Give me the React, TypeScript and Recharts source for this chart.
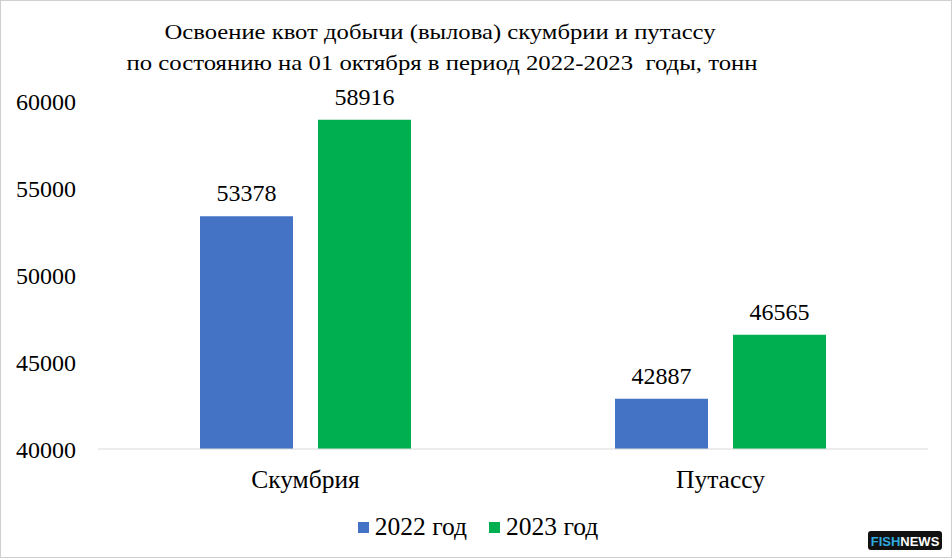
import React from "react"
import { BarChart, Bar, XAxis, YAxis, Legend, LabelList } from "recharts"

const categories = ["Скумбрия", "Путассу"]
const values2022 = [53378, 42887]
const values2023 = [58916, 46565]
const yTicks = [40000, 45000, 50000, 55000, 60000]
const seriesNames = ["2022 год", "2023 год"]

const COLORS = ["#4472C4", "#00B050"]
const FONT = "Liberation Serif, Times New Roman, serif"

const data = categories.map((name, i) => ({
  name,
  y2022: values2022[i],
  y2023: values2023[i],
}))

const renderLegend = () => (
  <div
    style={{
      display: "flex",
      justifyContent: "center",
      alignItems: "center",
      fontFamily: FONT,
      fontSize: 25.5,
      color: "#000",
      height: 30,
      paddingLeft: 28,
    }}
  >
    {seriesNames.map((s, i) => (
      <span
        key={s}
        style={{ display: "flex", alignItems: "center", marginRight: i === 0 ? 22 : 0 }}
      >
        <span
          style={{
            width: 11,
            height: 11,
            background: COLORS[i],
            display: "inline-block",
            marginRight: 6,
          }}
        />
        {s}
      </span>
    ))}
  </div>
)

const App = () => {
  return (
    <div
      style={{
        position: "absolute",
        left: 0,
        top: 0,
        width: 952,
        height: 560,
        background: "#fff",
        fontFamily: FONT,
      }}
    >
      <div
        style={{
          position: "absolute",
          left: 0,
          top: 0,
          width: 950,
          height: 556,
          border: "1px solid #cfcfcf",
        }}
      />
      <svg
        width={952}
        height={90}
        style={{ position: "absolute", left: 0, top: 0, fontFamily: FONT }}
      >
        <text
          x={440}
          y={39}
          textAnchor="middle"
          fontSize={22}
          textLength={551}
          lengthAdjust="spacingAndGlyphs"
        >
          Освоение квот добычи (вылова) скумбрии и путассу
        </text>
        <text
          x={442}
          y={70}
          textAnchor="middle"
          fontSize={22}
          textLength={631}
          lengthAdjust="spacingAndGlyphs"
          style={{ whiteSpace: "pre" }}
        >
          по состоянию на 01 октября в период 2022-2023  годы, тонн
        </text>
      </svg>
      <BarChart
        width={952}
        height={560}
        data={data}
        margin={{ top: 101, right: 24, bottom: 41, left: 0 }}
        barSize={93}
        barGap={25}
        style={{ position: "absolute", left: 0, top: 0, fontFamily: FONT }}
      >
        <XAxis
          dataKey="name"
          axisLine={{ stroke: "#d9d9d9" }}
          tickLine={false}
          tickMargin={15}
          height={40}
          tick={{ fill: "#000", fontSize: 25.5, style: { fontFamily: FONT } }}
        />
        <YAxis
          domain={[40000, 60000]}
          ticks={yTicks}
          width={98}
          axisLine={false}
          tickLine={false}
          tickMargin={16}
          allowDataOverflow
          tick={{ fill: "#000", fontSize: 24, style: { fontFamily: FONT } }}
        />
        <Legend
          verticalAlign="bottom"
          content={renderLegend}
          wrapperStyle={{ bottom: 18 }}
        />
        <Bar dataKey="y2022" name={seriesNames[0]} fill={COLORS[0]} isAnimationActive={false}>
          <LabelList
            dataKey="y2022"
            position="top"
            offset={15}
            fill="#000"
            fontSize={24}
            style={{ fontFamily: FONT }}
          />
        </Bar>
        <Bar dataKey="y2023" name={seriesNames[1]} fill={COLORS[1]} isAnimationActive={false}>
          <LabelList
            dataKey="y2023"
            position="top"
            offset={15}
            fill="#000"
            fontSize={24}
            style={{ fontFamily: FONT }}
          />
        </Bar>
      </BarChart>
      <svg
        width={80}
        height={24}
        style={{ position: "absolute", left: 866, top: 529 }}
      >
        <rect x={2} y={2} width={74} height={19} rx={3} fill="#111" />
        <text
          x={39}
          y={17}
          textAnchor="middle"
          fontFamily="Liberation Sans, Arial, sans-serif"
          fontWeight="bold"
          fontSize={13}
        >
          <tspan fill="#2ea9df">FISH</tspan>
          <tspan fill="#fff">NEWS</tspan>
        </text>
      </svg>
    </div>
  )
}

export default App
